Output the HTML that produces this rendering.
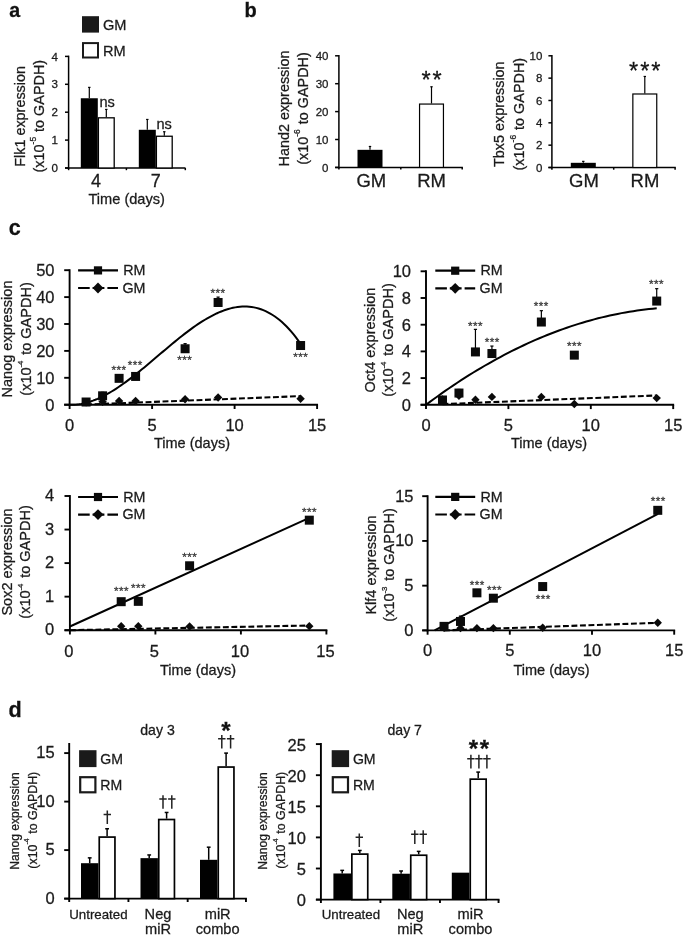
<!DOCTYPE html>
<html><head><meta charset="utf-8"><title>Figure</title>
<style>
html,body{margin:0;padding:0;background:#fff;}
body{width:685px;height:937px;overflow:hidden;font-family:"Liberation Sans",sans-serif;}
svg{display:block;}
svg text{font-family:"Liberation Sans",sans-serif;stroke:#222;stroke-width:0.28px;paint-order:stroke;}
</style></head><body>
<svg width="685" height="937" viewBox="0 0 685 937">
<rect x="0" y="0" width="685" height="937" fill="#ffffff"/>
<g opacity="0.999">
<text x="9.20" y="16.60" font-size="19.6" text-anchor="start" font-weight="bold" fill="#111" >a</text>
<rect x="82.00" y="16.20" width="17.00" height="16.40" fill="#1a1a1a"/>
<rect x="83.00" y="43.10" width="15.00" height="14.40" fill="#fff" stroke="#1a1a1a" stroke-width="2"/>
<text x="103.00" y="29.60" font-size="14.6" text-anchor="start" font-weight="normal" fill="#1a1a1a" >GM</text>
<text x="103.00" y="56.20" font-size="14.6" text-anchor="start" font-weight="normal" fill="#1a1a1a" >RM</text>
<line x1="68.60" y1="55.65" x2="68.60" y2="168.75" stroke="#000" stroke-width="1.5"/>
<line x1="65.00" y1="168.00" x2="185.50" y2="168.00" stroke="#000" stroke-width="1.5"/>
<line x1="65.00" y1="168.00" x2="68.60" y2="168.00" stroke="#000" stroke-width="1.5"/>
<text x="57.90" y="172.18" font-size="11.6" text-anchor="end" font-weight="normal" fill="#1a1a1a" >0</text>
<line x1="65.00" y1="140.10" x2="68.60" y2="140.10" stroke="#000" stroke-width="1.5"/>
<text x="57.90" y="144.28" font-size="11.6" text-anchor="end" font-weight="normal" fill="#1a1a1a" >1</text>
<line x1="65.00" y1="112.20" x2="68.60" y2="112.20" stroke="#000" stroke-width="1.5"/>
<text x="57.90" y="116.38" font-size="11.6" text-anchor="end" font-weight="normal" fill="#1a1a1a" >2</text>
<line x1="65.00" y1="84.30" x2="68.60" y2="84.30" stroke="#000" stroke-width="1.5"/>
<text x="57.90" y="88.48" font-size="11.6" text-anchor="end" font-weight="normal" fill="#1a1a1a" >3</text>
<line x1="65.00" y1="56.40" x2="68.60" y2="56.40" stroke="#000" stroke-width="1.5"/>
<text x="57.90" y="60.58" font-size="11.6" text-anchor="end" font-weight="normal" fill="#1a1a1a" >4</text>
<line x1="68.60" y1="168.00" x2="68.60" y2="170.20" stroke="#000" stroke-width="1.5"/>
<line x1="126.40" y1="168.00" x2="126.40" y2="170.20" stroke="#000" stroke-width="1.5"/>
<line x1="185.30" y1="168.00" x2="185.30" y2="170.20" stroke="#000" stroke-width="1.5"/>
<rect x="80.80" y="98.25" width="17.00" height="69.75" fill="#000"/>
<rect x="98.40" y="117.82" width="15.80" height="50.18" fill="#fff" stroke="#000" stroke-width="1.3"/>
<line x1="89.30" y1="87.37" x2="89.30" y2="98.25" stroke="#000" stroke-width="1.2"/>
<line x1="88.10" y1="87.37" x2="90.50" y2="87.37" stroke="#000" stroke-width="1.2"/>
<line x1="106.30" y1="109.41" x2="106.30" y2="117.22" stroke="#000" stroke-width="1.2"/>
<line x1="105.10" y1="109.41" x2="107.50" y2="109.41" stroke="#000" stroke-width="1.2"/>
<rect x="138.80" y="129.78" width="17.00" height="38.22" fill="#000"/>
<rect x="156.40" y="136.24" width="15.80" height="31.76" fill="#fff" stroke="#000" stroke-width="1.3"/>
<line x1="147.30" y1="119.45" x2="147.30" y2="129.78" stroke="#000" stroke-width="1.2"/>
<line x1="146.10" y1="119.45" x2="148.50" y2="119.45" stroke="#000" stroke-width="1.2"/>
<line x1="164.30" y1="131.73" x2="164.30" y2="135.64" stroke="#000" stroke-width="1.2"/>
<line x1="163.10" y1="131.73" x2="165.50" y2="131.73" stroke="#000" stroke-width="1.2"/>
<text x="99.40" y="106.80" font-size="14.6" text-anchor="start" font-weight="normal" fill="#1a1a1a" >ns</text>
<text x="156.40" y="129.20" font-size="14.6" text-anchor="start" font-weight="normal" fill="#1a1a1a" >ns</text>
<text x="96.00" y="186.60" font-size="18" text-anchor="middle" font-weight="normal" fill="#1a1a1a" >4</text>
<text x="155.80" y="186.60" font-size="18" text-anchor="middle" font-weight="normal" fill="#1a1a1a" >7</text>
<text x="126.70" y="203.80" font-size="14.6" text-anchor="middle" font-weight="normal" fill="#1a1a1a" >Time (days)</text>
<text transform="translate(24.80,116.40) rotate(-90)" font-size="14.4" text-anchor="middle" fill="#1a1a1a">Flk1 expression</text>
<text transform="translate(43.60,116.20) rotate(-90)" font-size="14.4" text-anchor="middle" fill="#1a1a1a">(x10<tspan dy="-0.932em" font-size="59%">-5</tspan><tspan dy="0.550em" dx="1.0"> to GAPDH)</tspan></text>
<text x="244.50" y="17.00" font-size="20" text-anchor="start" font-weight="bold" fill="#111" >b</text>
<line x1="338.90" y1="55.05" x2="338.90" y2="168.15" stroke="#000" stroke-width="1.5"/>
<line x1="335.10" y1="167.40" x2="462.90" y2="167.40" stroke="#000" stroke-width="1.5"/>
<line x1="335.10" y1="167.40" x2="338.90" y2="167.40" stroke="#000" stroke-width="1.5"/>
<text x="328.50" y="171.54" font-size="11.5" text-anchor="end" font-weight="normal" fill="#1a1a1a" >0</text>
<line x1="335.10" y1="139.50" x2="338.90" y2="139.50" stroke="#000" stroke-width="1.5"/>
<text x="328.50" y="143.64" font-size="11.5" text-anchor="end" font-weight="normal" fill="#1a1a1a" >10</text>
<line x1="335.10" y1="111.60" x2="338.90" y2="111.60" stroke="#000" stroke-width="1.5"/>
<text x="328.50" y="115.74" font-size="11.5" text-anchor="end" font-weight="normal" fill="#1a1a1a" >20</text>
<line x1="335.10" y1="83.70" x2="338.90" y2="83.70" stroke="#000" stroke-width="1.5"/>
<text x="328.50" y="87.84" font-size="11.5" text-anchor="end" font-weight="normal" fill="#1a1a1a" >30</text>
<line x1="335.10" y1="55.80" x2="338.90" y2="55.80" stroke="#000" stroke-width="1.5"/>
<text x="328.50" y="59.94" font-size="11.5" text-anchor="end" font-weight="normal" fill="#1a1a1a" >40</text>
<line x1="338.90" y1="167.40" x2="338.90" y2="169.60" stroke="#000" stroke-width="1.5"/>
<line x1="400.80" y1="167.40" x2="400.80" y2="169.60" stroke="#000" stroke-width="1.5"/>
<line x1="462.20" y1="167.40" x2="462.20" y2="169.60" stroke="#000" stroke-width="1.5"/>
<rect x="357.50" y="149.82" width="25.00" height="17.58" fill="#000"/>
<rect x="419.55" y="104.06" width="23.90" height="63.34" fill="#fff" stroke="#000" stroke-width="1.2"/>
<line x1="370.00" y1="146.47" x2="370.00" y2="149.82" stroke="#000" stroke-width="1.2"/>
<line x1="368.80" y1="146.47" x2="371.20" y2="146.47" stroke="#000" stroke-width="1.2"/>
<line x1="431.50" y1="86.77" x2="431.50" y2="103.51" stroke="#000" stroke-width="1.2"/>
<line x1="430.30" y1="86.77" x2="432.70" y2="86.77" stroke="#000" stroke-width="1.2"/>
<text x="432.60" y="87.50" font-size="23.5" text-anchor="middle" font-weight="normal" fill="#111" letter-spacing="2.0">**</text>
<text x="371.30" y="187.20" font-size="18.5" text-anchor="middle" font-weight="normal" fill="#1a1a1a" >GM</text>
<text x="431.60" y="187.20" font-size="18.5" text-anchor="middle" font-weight="normal" fill="#1a1a1a" >RM</text>
<text transform="translate(289.10,108.50) rotate(-90)" font-size="14.4" text-anchor="middle" fill="#1a1a1a">Hand2 expression</text>
<text transform="translate(308.10,108.50) rotate(-90)" font-size="14.4" text-anchor="middle" fill="#1a1a1a">(x10<tspan dy="-0.932em" font-size="59%">-6</tspan><tspan dy="0.550em" dx="1.0"> to GAPDH)</tspan></text>
<line x1="551.90" y1="55.05" x2="551.90" y2="168.25" stroke="#000" stroke-width="1.5"/>
<line x1="548.40" y1="167.50" x2="675.80" y2="167.50" stroke="#000" stroke-width="1.5"/>
<line x1="548.40" y1="167.50" x2="551.90" y2="167.50" stroke="#000" stroke-width="1.5"/>
<text x="542.30" y="171.64" font-size="11.5" text-anchor="end" font-weight="normal" fill="#1a1a1a" >0</text>
<line x1="548.40" y1="145.16" x2="551.90" y2="145.16" stroke="#000" stroke-width="1.5"/>
<text x="542.30" y="149.30" font-size="11.5" text-anchor="end" font-weight="normal" fill="#1a1a1a" >2</text>
<line x1="548.40" y1="122.82" x2="551.90" y2="122.82" stroke="#000" stroke-width="1.5"/>
<text x="542.30" y="126.96" font-size="11.5" text-anchor="end" font-weight="normal" fill="#1a1a1a" >4</text>
<line x1="548.40" y1="100.48" x2="551.90" y2="100.48" stroke="#000" stroke-width="1.5"/>
<text x="542.30" y="104.62" font-size="11.5" text-anchor="end" font-weight="normal" fill="#1a1a1a" >6</text>
<line x1="548.40" y1="78.14" x2="551.90" y2="78.14" stroke="#000" stroke-width="1.5"/>
<text x="542.30" y="82.28" font-size="11.5" text-anchor="end" font-weight="normal" fill="#1a1a1a" >8</text>
<line x1="548.40" y1="55.80" x2="551.90" y2="55.80" stroke="#000" stroke-width="1.5"/>
<text x="542.30" y="59.94" font-size="11.5" text-anchor="end" font-weight="normal" fill="#1a1a1a" >10</text>
<line x1="551.90" y1="167.50" x2="551.90" y2="169.70" stroke="#000" stroke-width="1.5"/>
<line x1="613.70" y1="167.50" x2="613.70" y2="169.70" stroke="#000" stroke-width="1.5"/>
<line x1="675.10" y1="167.50" x2="675.10" y2="169.70" stroke="#000" stroke-width="1.5"/>
<rect x="570.80" y="162.81" width="25.00" height="4.69" fill="#000"/>
<rect x="632.85" y="93.99" width="23.90" height="73.51" fill="#fff" stroke="#000" stroke-width="1.2"/>
<line x1="583.30" y1="161.36" x2="583.30" y2="162.81" stroke="#000" stroke-width="1.2"/>
<line x1="582.10" y1="161.36" x2="584.50" y2="161.36" stroke="#000" stroke-width="1.2"/>
<line x1="644.80" y1="76.46" x2="644.80" y2="93.44" stroke="#000" stroke-width="1.2"/>
<line x1="643.60" y1="76.46" x2="646.00" y2="76.46" stroke="#000" stroke-width="1.2"/>
<text x="645.80" y="78.90" font-size="23.5" text-anchor="middle" font-weight="normal" fill="#111" letter-spacing="2.0">***</text>
<text x="584.00" y="187.20" font-size="18.5" text-anchor="middle" font-weight="normal" fill="#1a1a1a" >GM</text>
<text x="645.00" y="187.20" font-size="18.5" text-anchor="middle" font-weight="normal" fill="#1a1a1a" >RM</text>
<text transform="translate(504.40,114.20) rotate(-90)" font-size="14.4" text-anchor="middle" fill="#1a1a1a">Tbx5 expression</text>
<text transform="translate(523.60,114.20) rotate(-90)" font-size="14.4" text-anchor="middle" fill="#1a1a1a">(x10<tspan dy="-0.932em" font-size="59%">-6</tspan><tspan dy="0.550em" dx="1.0"> to GAPDH)</tspan></text>
<text x="8.80" y="234.70" font-size="21.5" text-anchor="start" font-weight="bold" fill="#111" >c</text>
<polyline points="69.60,404.70 71.93,404.70 74.27,404.68 76.60,404.51 78.93,404.24 81.27,403.88 83.60,403.41 85.93,402.86 88.27,402.22 90.60,401.49 92.93,400.67 95.27,399.78 97.60,398.80 99.93,397.75 102.27,396.63 104.60,395.44 106.93,394.19 109.27,392.87 111.60,391.49 113.93,390.05 116.27,388.56 118.60,387.01 120.93,385.42 123.27,383.78 125.60,382.09 127.93,380.37 130.27,378.61 132.60,376.81 134.93,374.98 137.27,373.13 139.60,371.24 141.93,369.34 144.27,367.41 146.60,365.47 148.93,363.51 151.27,361.54 153.60,359.57 155.93,357.58 158.27,355.60 160.60,353.61 162.93,351.63 165.27,349.65 167.60,347.68 169.93,345.72 172.27,343.78 174.60,341.86 176.93,339.95 179.27,338.07 181.60,336.21 183.93,334.39 186.27,332.59 188.60,330.83 190.93,329.11 193.27,327.43 195.60,325.79 197.93,324.20 200.27,322.65 202.60,321.16 204.93,319.73 207.27,318.35 209.60,317.03 211.93,315.78 214.27,314.59 216.60,313.47 218.93,312.43 221.27,311.46 223.60,310.56 225.93,309.75 228.27,309.03 230.60,308.38 232.93,307.83 235.27,307.38 237.60,307.01 239.93,306.75 242.27,306.58 244.60,306.52 246.93,306.57 249.27,306.73 251.60,307.00 253.93,307.38 256.27,307.89 258.60,308.51 260.93,309.26 263.27,310.14 265.60,311.15 267.93,312.29 270.27,313.56 272.60,314.98 274.93,316.53 277.27,318.24 279.60,320.08 281.93,322.08 284.27,324.23 286.60,326.54 288.93,329.01 291.27,331.64 293.60,334.43 295.93,337.39 298.27,340.53 300.60,343.83" fill="none" stroke="#000" stroke-width="2.0" stroke-linejoin="round"/>
<polyline points="86.10,404.51 300.60,396.12" fill="none" stroke="#000" stroke-width="2.1" stroke-dasharray="5.9,2.6"/>
<line x1="69.60" y1="269.25" x2="69.60" y2="405.65" stroke="#000" stroke-width="1.9"/>
<line x1="64.20" y1="404.70" x2="318.05" y2="404.70" stroke="#000" stroke-width="1.9"/>
<line x1="64.20" y1="404.70" x2="69.60" y2="404.70" stroke="#000" stroke-width="1.9"/>
<text x="54.50" y="410.60" font-size="16.5" text-anchor="end" font-weight="normal" fill="#1a1a1a" >0</text>
<line x1="64.20" y1="377.80" x2="69.60" y2="377.80" stroke="#000" stroke-width="1.9"/>
<text x="54.50" y="383.70" font-size="16.5" text-anchor="end" font-weight="normal" fill="#1a1a1a" >10</text>
<line x1="64.20" y1="350.90" x2="69.60" y2="350.90" stroke="#000" stroke-width="1.9"/>
<text x="54.50" y="356.80" font-size="16.5" text-anchor="end" font-weight="normal" fill="#1a1a1a" >20</text>
<line x1="64.20" y1="324.00" x2="69.60" y2="324.00" stroke="#000" stroke-width="1.9"/>
<text x="54.50" y="329.90" font-size="16.5" text-anchor="end" font-weight="normal" fill="#1a1a1a" >30</text>
<line x1="64.20" y1="297.10" x2="69.60" y2="297.10" stroke="#000" stroke-width="1.9"/>
<text x="54.50" y="303.00" font-size="16.5" text-anchor="end" font-weight="normal" fill="#1a1a1a" >40</text>
<line x1="64.20" y1="270.20" x2="69.60" y2="270.20" stroke="#000" stroke-width="1.9"/>
<text x="54.50" y="276.10" font-size="16.5" text-anchor="end" font-weight="normal" fill="#1a1a1a" >50</text>
<line x1="69.60" y1="404.70" x2="69.60" y2="409.00" stroke="#000" stroke-width="1.9"/>
<text x="69.60" y="431.40" font-size="16.5" text-anchor="middle" font-weight="normal" fill="#1a1a1a" >0</text>
<line x1="152.10" y1="404.70" x2="152.10" y2="409.00" stroke="#000" stroke-width="1.9"/>
<text x="152.10" y="431.40" font-size="16.5" text-anchor="middle" font-weight="normal" fill="#1a1a1a" >5</text>
<line x1="234.60" y1="404.70" x2="234.60" y2="409.00" stroke="#000" stroke-width="1.9"/>
<text x="234.60" y="431.40" font-size="16.5" text-anchor="middle" font-weight="normal" fill="#1a1a1a" >10</text>
<line x1="317.10" y1="404.70" x2="317.10" y2="409.00" stroke="#000" stroke-width="1.9"/>
<text x="317.10" y="431.40" font-size="16.5" text-anchor="middle" font-weight="normal" fill="#1a1a1a" >15</text>
<line x1="102.60" y1="392.33" x2="102.60" y2="395.82" stroke="#000" stroke-width="1.2"/>
<line x1="101.00" y1="392.33" x2="104.20" y2="392.33" stroke="#000" stroke-width="1.2"/>
<line x1="185.10" y1="343.64" x2="185.10" y2="348.75" stroke="#000" stroke-width="1.2"/>
<line x1="183.50" y1="343.64" x2="186.70" y2="343.64" stroke="#000" stroke-width="1.2"/>
<line x1="218.10" y1="297.10" x2="218.10" y2="302.48" stroke="#000" stroke-width="1.2"/>
<line x1="216.50" y1="297.10" x2="219.70" y2="297.10" stroke="#000" stroke-width="1.2"/>
<path d="M81.90,402.28 L86.10,398.08 L90.30,402.28 L86.10,406.48 Z" fill="#0a0a0a"/>
<path d="M98.40,401.74 L102.60,397.54 L106.80,401.74 L102.60,405.94 Z" fill="#0a0a0a"/>
<path d="M114.90,400.93 L119.10,396.73 L123.30,400.93 L119.10,405.13 Z" fill="#0a0a0a"/>
<path d="M131.40,400.93 L135.60,396.73 L139.80,400.93 L135.60,405.13 Z" fill="#0a0a0a"/>
<path d="M180.90,399.32 L185.10,395.12 L189.30,399.32 L185.10,403.52 Z" fill="#0a0a0a"/>
<path d="M213.90,397.44 L218.10,393.24 L222.30,397.44 L218.10,401.64 Z" fill="#0a0a0a"/>
<path d="M296.40,398.78 L300.60,394.58 L304.80,398.78 L300.60,402.98 Z" fill="#0a0a0a"/>
<rect x="81.60" y="397.51" width="9.00" height="9.00" fill="#0a0a0a"/>
<rect x="98.10" y="391.32" width="9.00" height="9.00" fill="#0a0a0a"/>
<rect x="114.60" y="373.84" width="9.00" height="9.00" fill="#0a0a0a"/>
<rect x="131.10" y="371.95" width="9.00" height="9.00" fill="#0a0a0a"/>
<rect x="180.60" y="344.25" width="9.00" height="9.00" fill="#0a0a0a"/>
<rect x="213.60" y="297.98" width="9.00" height="9.00" fill="#0a0a0a"/>
<rect x="296.10" y="341.02" width="9.00" height="9.00" fill="#0a0a0a"/>
<text x="118.95" y="374.10" font-size="11.6" text-anchor="middle" font-weight="normal" fill="#3a3a3a" letter-spacing="0.5">***</text>
<text x="135.15" y="369.40" font-size="11.6" text-anchor="middle" font-weight="normal" fill="#3a3a3a" letter-spacing="0.5">***</text>
<text x="184.85" y="364.30" font-size="11.6" text-anchor="middle" font-weight="normal" fill="#3a3a3a" letter-spacing="0.5">***</text>
<text x="217.95" y="296.60" font-size="11.6" text-anchor="middle" font-weight="normal" fill="#3a3a3a" letter-spacing="0.5">***</text>
<text x="300.65" y="360.60" font-size="11.6" text-anchor="middle" font-weight="normal" fill="#3a3a3a" letter-spacing="0.5">***</text>
<line x1="78.10" y1="270.40" x2="118.00" y2="270.40" stroke="#000" stroke-width="2.2"/>
<rect x="93.90" y="266.30" width="8.20" height="8.20" fill="#0a0a0a"/>
<text x="123.30" y="275.10" font-size="14.3" text-anchor="start" font-weight="normal" fill="#1a1a1a" >RM</text>
<line x1="78.10" y1="288.00" x2="118.00" y2="288.00" stroke="#000" stroke-width="2.2" stroke-dasharray="11.6,2.9,11.8,3,10.6"/>
<path d="M92.60,288.00 L98.00,282.60 L103.40,288.00 L98.00,293.40 Z" fill="#0a0a0a"/>
<text x="122.40" y="292.70" font-size="14.3" text-anchor="start" font-weight="normal" fill="#1a1a1a" >GM</text>
<text transform="translate(11.60,339.00) rotate(-90)" font-size="14.5" text-anchor="middle" fill="#1a1a1a">Nanog expression</text>
<text transform="translate(30.80,339.00) rotate(-90)" font-size="14.5" text-anchor="middle" fill="#1a1a1a">(x10<tspan dy="-0.981em" font-size="54%">-4</tspan><tspan dy="0.530em" dx="1.7"> to GAPDH)</tspan></text>
<text x="192.00" y="448.30" font-size="14.5" text-anchor="middle" font-weight="normal" fill="#1a1a1a" >Time (days)</text>
<polyline points="426.00,404.80 429.91,401.89 433.82,399.02 437.73,396.20 441.64,393.42 445.55,390.69 449.46,387.99 453.37,385.35 457.28,382.75 461.19,380.19 465.11,377.67 469.02,375.20 472.93,372.77 476.84,370.39 480.75,368.05 484.66,365.76 488.57,363.51 492.48,361.30 496.39,359.14 500.30,357.02 504.21,354.94 508.12,352.91 512.03,350.92 515.94,348.98 519.85,347.08 523.76,345.23 527.67,343.41 531.58,341.65 535.49,339.92 539.40,338.24 543.32,336.61 547.23,335.02 551.14,333.47 555.05,331.97 558.96,330.51 562.87,329.09 566.78,327.72 570.69,326.39 574.60,325.11 578.51,323.87 582.42,322.68 586.33,321.52 590.24,320.42 594.15,319.35 598.06,318.33 601.97,317.36 605.88,316.43 609.79,315.54 613.70,314.70 617.61,313.90 621.53,313.14 625.44,312.43 629.35,311.76 633.26,311.14 637.17,310.56 641.08,310.02 644.99,309.53 648.90,309.08 652.81,308.68 656.72,308.32" fill="none" stroke="#000" stroke-width="2.0" stroke-linejoin="round"/>
<polyline points="442.48,404.13 656.72,395.45" fill="none" stroke="#000" stroke-width="2.1" stroke-dasharray="5.9,2.6"/>
<line x1="426.00" y1="270.35" x2="426.00" y2="405.75" stroke="#000" stroke-width="1.9"/>
<line x1="420.60" y1="404.80" x2="674.15" y2="404.80" stroke="#000" stroke-width="1.9"/>
<line x1="420.60" y1="404.80" x2="426.00" y2="404.80" stroke="#000" stroke-width="1.9"/>
<text x="411.00" y="410.70" font-size="16.5" text-anchor="end" font-weight="normal" fill="#1a1a1a" >0</text>
<line x1="420.60" y1="378.10" x2="426.00" y2="378.10" stroke="#000" stroke-width="1.9"/>
<text x="411.00" y="384.00" font-size="16.5" text-anchor="end" font-weight="normal" fill="#1a1a1a" >2</text>
<line x1="420.60" y1="351.40" x2="426.00" y2="351.40" stroke="#000" stroke-width="1.9"/>
<text x="411.00" y="357.30" font-size="16.5" text-anchor="end" font-weight="normal" fill="#1a1a1a" >4</text>
<line x1="420.60" y1="324.70" x2="426.00" y2="324.70" stroke="#000" stroke-width="1.9"/>
<text x="411.00" y="330.60" font-size="16.5" text-anchor="end" font-weight="normal" fill="#1a1a1a" >6</text>
<line x1="420.60" y1="298.00" x2="426.00" y2="298.00" stroke="#000" stroke-width="1.9"/>
<text x="411.00" y="303.90" font-size="16.5" text-anchor="end" font-weight="normal" fill="#1a1a1a" >8</text>
<line x1="420.60" y1="271.30" x2="426.00" y2="271.30" stroke="#000" stroke-width="1.9"/>
<text x="411.00" y="277.20" font-size="16.5" text-anchor="end" font-weight="normal" fill="#1a1a1a" >10</text>
<line x1="426.00" y1="404.80" x2="426.00" y2="409.10" stroke="#000" stroke-width="1.9"/>
<text x="426.00" y="431.40" font-size="16.5" text-anchor="middle" font-weight="normal" fill="#1a1a1a" >0</text>
<line x1="508.40" y1="404.80" x2="508.40" y2="409.10" stroke="#000" stroke-width="1.9"/>
<text x="508.40" y="431.40" font-size="16.5" text-anchor="middle" font-weight="normal" fill="#1a1a1a" >5</text>
<line x1="590.80" y1="404.80" x2="590.80" y2="409.10" stroke="#000" stroke-width="1.9"/>
<text x="590.80" y="431.40" font-size="16.5" text-anchor="middle" font-weight="normal" fill="#1a1a1a" >10</text>
<line x1="673.20" y1="404.80" x2="673.20" y2="409.10" stroke="#000" stroke-width="1.9"/>
<text x="673.20" y="431.40" font-size="16.5" text-anchor="middle" font-weight="normal" fill="#1a1a1a" >15</text>
<line x1="458.96" y1="389.45" x2="458.96" y2="393.05" stroke="#000" stroke-width="1.2"/>
<line x1="457.36" y1="389.45" x2="460.56" y2="389.45" stroke="#000" stroke-width="1.2"/>
<line x1="475.44" y1="329.37" x2="475.44" y2="351.93" stroke="#000" stroke-width="1.2"/>
<line x1="473.84" y1="329.37" x2="477.04" y2="329.37" stroke="#000" stroke-width="1.2"/>
<line x1="491.92" y1="346.06" x2="491.92" y2="353.54" stroke="#000" stroke-width="1.2"/>
<line x1="490.32" y1="346.06" x2="493.52" y2="346.06" stroke="#000" stroke-width="1.2"/>
<line x1="541.36" y1="310.68" x2="541.36" y2="322.03" stroke="#000" stroke-width="1.2"/>
<line x1="539.76" y1="310.68" x2="542.96" y2="310.68" stroke="#000" stroke-width="1.2"/>
<line x1="656.72" y1="288.66" x2="656.72" y2="301.07" stroke="#000" stroke-width="1.2"/>
<line x1="655.12" y1="288.66" x2="658.32" y2="288.66" stroke="#000" stroke-width="1.2"/>
<path d="M438.28,399.46 L442.48,395.26 L446.68,399.46 L442.48,403.66 Z" fill="#0a0a0a"/>
<path d="M454.76,395.72 L458.96,391.52 L463.16,395.72 L458.96,399.92 Z" fill="#0a0a0a"/>
<path d="M471.24,399.73 L475.44,395.53 L479.64,399.73 L475.44,403.93 Z" fill="#0a0a0a"/>
<path d="M487.72,396.92 L491.92,392.72 L496.12,396.92 L491.92,401.12 Z" fill="#0a0a0a"/>
<path d="M537.16,396.92 L541.36,392.72 L545.56,396.92 L541.36,401.12 Z" fill="#0a0a0a"/>
<path d="M570.12,404.00 L574.32,399.80 L578.52,404.00 L574.32,408.20 Z" fill="#0a0a0a"/>
<path d="M652.52,398.12 L656.72,393.93 L660.92,398.12 L656.72,402.32 Z" fill="#0a0a0a"/>
<rect x="437.98" y="395.49" width="9.00" height="9.00" fill="#0a0a0a"/>
<rect x="454.46" y="388.55" width="9.00" height="9.00" fill="#0a0a0a"/>
<rect x="470.94" y="347.43" width="9.00" height="9.00" fill="#0a0a0a"/>
<rect x="487.42" y="349.04" width="9.00" height="9.00" fill="#0a0a0a"/>
<rect x="536.86" y="317.53" width="9.00" height="9.00" fill="#0a0a0a"/>
<rect x="569.82" y="350.64" width="9.00" height="9.00" fill="#0a0a0a"/>
<rect x="652.22" y="296.57" width="9.00" height="9.00" fill="#0a0a0a"/>
<text x="475.55" y="329.60" font-size="11.6" text-anchor="middle" font-weight="normal" fill="#3a3a3a" letter-spacing="0.5">***</text>
<text x="492.15" y="345.60" font-size="11.6" text-anchor="middle" font-weight="normal" fill="#3a3a3a" letter-spacing="0.5">***</text>
<text x="541.35" y="310.30" font-size="11.6" text-anchor="middle" font-weight="normal" fill="#3a3a3a" letter-spacing="0.5">***</text>
<text x="574.45" y="349.60" font-size="11.6" text-anchor="middle" font-weight="normal" fill="#3a3a3a" letter-spacing="0.5">***</text>
<text x="656.45" y="287.80" font-size="11.6" text-anchor="middle" font-weight="normal" fill="#3a3a3a" letter-spacing="0.5">***</text>
<line x1="435.30" y1="270.70" x2="475.20" y2="270.70" stroke="#000" stroke-width="2.2"/>
<rect x="451.10" y="266.60" width="8.20" height="8.20" fill="#0a0a0a"/>
<text x="480.50" y="275.40" font-size="14.3" text-anchor="start" font-weight="normal" fill="#1a1a1a" >RM</text>
<line x1="435.30" y1="288.30" x2="475.20" y2="288.30" stroke="#000" stroke-width="2.2" stroke-dasharray="11.6,2.9,11.8,3,10.6"/>
<path d="M449.80,288.30 L455.20,282.90 L460.60,288.30 L455.20,293.70 Z" fill="#0a0a0a"/>
<text x="479.60" y="293.00" font-size="14.3" text-anchor="start" font-weight="normal" fill="#1a1a1a" >GM</text>
<text transform="translate(374.50,340.00) rotate(-90)" font-size="14.5" text-anchor="middle" fill="#1a1a1a">Oct4 expression</text>
<text transform="translate(393.20,340.00) rotate(-90)" font-size="14.5" text-anchor="middle" fill="#1a1a1a">(x10<tspan dy="-0.981em" font-size="54%">-4</tspan><tspan dy="0.530em" dx="1.7"> to GAPDH)</tspan></text>
<text x="549.00" y="448.30" font-size="14.5" text-anchor="middle" font-weight="normal" fill="#1a1a1a" >Time (days)</text>
<polyline points="69.90,626.51 309.30,517.81" fill="none" stroke="#000" stroke-width="2.0" stroke-linejoin="round"/>
<polyline points="69.90,630.20 309.30,625.50" fill="none" stroke="#000" stroke-width="2.1" stroke-dasharray="5.9,2.6"/>
<line x1="69.90" y1="495.05" x2="69.90" y2="631.15" stroke="#000" stroke-width="1.9"/>
<line x1="64.50" y1="630.20" x2="327.35" y2="630.20" stroke="#000" stroke-width="1.9"/>
<line x1="64.50" y1="630.20" x2="69.90" y2="630.20" stroke="#000" stroke-width="1.9"/>
<text x="54.10" y="635.40" font-size="16.5" text-anchor="end" font-weight="normal" fill="#1a1a1a" >0</text>
<line x1="64.50" y1="596.65" x2="69.90" y2="596.65" stroke="#000" stroke-width="1.9"/>
<text x="54.10" y="601.85" font-size="16.5" text-anchor="end" font-weight="normal" fill="#1a1a1a" >1</text>
<line x1="64.50" y1="563.10" x2="69.90" y2="563.10" stroke="#000" stroke-width="1.9"/>
<text x="54.10" y="568.30" font-size="16.5" text-anchor="end" font-weight="normal" fill="#1a1a1a" >2</text>
<line x1="64.50" y1="529.55" x2="69.90" y2="529.55" stroke="#000" stroke-width="1.9"/>
<text x="54.10" y="534.75" font-size="16.5" text-anchor="end" font-weight="normal" fill="#1a1a1a" >3</text>
<line x1="64.50" y1="496.00" x2="69.90" y2="496.00" stroke="#000" stroke-width="1.9"/>
<text x="54.10" y="501.20" font-size="16.5" text-anchor="end" font-weight="normal" fill="#1a1a1a" >4</text>
<line x1="69.90" y1="630.20" x2="69.90" y2="634.50" stroke="#000" stroke-width="1.9"/>
<text x="68.90" y="656.60" font-size="16.5" text-anchor="middle" font-weight="normal" fill="#1a1a1a" >0</text>
<line x1="155.40" y1="630.20" x2="155.40" y2="634.50" stroke="#000" stroke-width="1.9"/>
<text x="154.40" y="656.60" font-size="16.5" text-anchor="middle" font-weight="normal" fill="#1a1a1a" >5</text>
<line x1="240.90" y1="630.20" x2="240.90" y2="634.50" stroke="#000" stroke-width="1.9"/>
<text x="239.90" y="656.60" font-size="16.5" text-anchor="middle" font-weight="normal" fill="#1a1a1a" >10</text>
<line x1="326.40" y1="630.20" x2="326.40" y2="634.50" stroke="#000" stroke-width="1.9"/>
<text x="325.40" y="656.60" font-size="16.5" text-anchor="middle" font-weight="normal" fill="#1a1a1a" >15</text>
<path d="M117.00,626.17 L121.20,621.97 L125.40,626.17 L121.20,630.37 Z" fill="#0a0a0a"/>
<path d="M134.10,626.17 L138.30,621.97 L142.50,626.17 L138.30,630.37 Z" fill="#0a0a0a"/>
<path d="M185.40,626.51 L189.60,622.31 L193.80,626.51 L189.60,630.71 Z" fill="#0a0a0a"/>
<path d="M305.10,626.17 L309.30,621.97 L313.50,626.17 L309.30,630.37 Z" fill="#0a0a0a"/>
<rect x="116.70" y="597.18" width="9.00" height="9.00" fill="#0a0a0a"/>
<rect x="133.80" y="596.85" width="9.00" height="9.00" fill="#0a0a0a"/>
<rect x="185.10" y="561.28" width="9.00" height="9.00" fill="#0a0a0a"/>
<rect x="304.80" y="515.66" width="9.00" height="9.00" fill="#0a0a0a"/>
<text x="121.45" y="595.10" font-size="11.6" text-anchor="middle" font-weight="normal" fill="#3a3a3a" letter-spacing="0.5">***</text>
<text x="138.55" y="592.30" font-size="11.6" text-anchor="middle" font-weight="normal" fill="#3a3a3a" letter-spacing="0.5">***</text>
<text x="189.85" y="560.80" font-size="11.6" text-anchor="middle" font-weight="normal" fill="#3a3a3a" letter-spacing="0.5">***</text>
<text x="309.55" y="516.40" font-size="11.6" text-anchor="middle" font-weight="normal" fill="#3a3a3a" letter-spacing="0.5">***</text>
<line x1="78.10" y1="497.00" x2="118.00" y2="497.00" stroke="#000" stroke-width="2.2"/>
<rect x="93.90" y="492.90" width="8.20" height="8.20" fill="#0a0a0a"/>
<text x="123.30" y="501.70" font-size="14.3" text-anchor="start" font-weight="normal" fill="#1a1a1a" >RM</text>
<line x1="78.10" y1="514.60" x2="118.00" y2="514.60" stroke="#000" stroke-width="2.2" stroke-dasharray="11.6,2.9,11.8,3,10.6"/>
<path d="M92.60,514.60 L98.00,509.20 L103.40,514.60 L98.00,520.00 Z" fill="#0a0a0a"/>
<text x="122.40" y="519.30" font-size="14.3" text-anchor="start" font-weight="normal" fill="#1a1a1a" >GM</text>
<text transform="translate(12.40,562.00) rotate(-90)" font-size="14.5" text-anchor="middle" fill="#1a1a1a">Sox2 expression</text>
<text transform="translate(30.40,562.00) rotate(-90)" font-size="14.5" text-anchor="middle" fill="#1a1a1a">(x10<tspan dy="-0.981em" font-size="54%">-4</tspan><tspan dy="0.530em" dx="1.7"> to GAPDH)</tspan></text>
<text x="198.00" y="674.60" font-size="14.5" text-anchor="middle" font-weight="normal" fill="#1a1a1a" >Time (days)</text>
<polyline points="434.60,630.40 658.00,513.90" fill="none" stroke="#000" stroke-width="2.0" stroke-linejoin="round"/>
<polyline points="444.04,630.40 657.76,622.80" fill="none" stroke="#000" stroke-width="2.1" stroke-dasharray="5.9,2.6"/>
<line x1="427.60" y1="495.25" x2="427.60" y2="631.35" stroke="#000" stroke-width="1.9"/>
<line x1="422.20" y1="630.40" x2="675.15" y2="630.40" stroke="#000" stroke-width="1.9"/>
<line x1="422.20" y1="630.40" x2="427.60" y2="630.40" stroke="#000" stroke-width="1.9"/>
<text x="413.50" y="635.70" font-size="16.5" text-anchor="end" font-weight="normal" fill="#1a1a1a" >0</text>
<line x1="422.20" y1="585.66" x2="427.60" y2="585.66" stroke="#000" stroke-width="1.9"/>
<text x="413.50" y="590.96" font-size="16.5" text-anchor="end" font-weight="normal" fill="#1a1a1a" >5</text>
<line x1="422.20" y1="540.93" x2="427.60" y2="540.93" stroke="#000" stroke-width="1.9"/>
<text x="413.50" y="546.23" font-size="16.5" text-anchor="end" font-weight="normal" fill="#1a1a1a" >10</text>
<line x1="422.20" y1="496.19" x2="427.60" y2="496.19" stroke="#000" stroke-width="1.9"/>
<text x="413.50" y="501.50" font-size="16.5" text-anchor="end" font-weight="normal" fill="#1a1a1a" >15</text>
<line x1="427.60" y1="630.40" x2="427.60" y2="634.70" stroke="#000" stroke-width="1.9"/>
<text x="427.60" y="656.40" font-size="16.5" text-anchor="middle" font-weight="normal" fill="#1a1a1a" >0</text>
<line x1="509.80" y1="630.40" x2="509.80" y2="634.70" stroke="#000" stroke-width="1.9"/>
<text x="509.80" y="656.40" font-size="16.5" text-anchor="middle" font-weight="normal" fill="#1a1a1a" >5</text>
<line x1="592.00" y1="630.40" x2="592.00" y2="634.70" stroke="#000" stroke-width="1.9"/>
<text x="592.00" y="656.40" font-size="16.5" text-anchor="middle" font-weight="normal" fill="#1a1a1a" >10</text>
<line x1="674.20" y1="630.40" x2="674.20" y2="634.70" stroke="#000" stroke-width="1.9"/>
<text x="674.20" y="656.40" font-size="16.5" text-anchor="middle" font-weight="normal" fill="#1a1a1a" >15</text>
<line x1="460.48" y1="616.08" x2="460.48" y2="621.45" stroke="#000" stroke-width="1.2"/>
<line x1="458.88" y1="616.08" x2="462.08" y2="616.08" stroke="#000" stroke-width="1.2"/>
<path d="M439.84,627.72 L444.04,623.52 L448.24,627.72 L444.04,631.92 Z" fill="#0a0a0a"/>
<path d="M456.28,628.16 L460.48,623.96 L464.68,628.16 L460.48,632.36 Z" fill="#0a0a0a"/>
<path d="M472.72,628.16 L476.92,623.96 L481.12,628.16 L476.92,632.36 Z" fill="#0a0a0a"/>
<path d="M489.16,628.16 L493.36,623.96 L497.56,628.16 L493.36,632.36 Z" fill="#0a0a0a"/>
<path d="M538.48,627.72 L542.68,623.52 L546.88,627.72 L542.68,631.92 Z" fill="#0a0a0a"/>
<path d="M653.56,622.80 L657.76,618.60 L661.96,622.80 L657.76,627.00 Z" fill="#0a0a0a"/>
<rect x="439.54" y="621.87" width="9.00" height="9.00" fill="#0a0a0a"/>
<rect x="455.98" y="616.95" width="9.00" height="9.00" fill="#0a0a0a"/>
<rect x="472.42" y="588.32" width="9.00" height="9.00" fill="#0a0a0a"/>
<rect x="488.86" y="593.69" width="9.00" height="9.00" fill="#0a0a0a"/>
<rect x="538.18" y="582.06" width="9.00" height="9.00" fill="#0a0a0a"/>
<rect x="653.26" y="505.83" width="9.00" height="9.00" fill="#0a0a0a"/>
<text x="477.15" y="589.10" font-size="11.6" text-anchor="middle" font-weight="normal" fill="#3a3a3a" letter-spacing="0.5">***</text>
<text x="494.45" y="594.10" font-size="11.6" text-anchor="middle" font-weight="normal" fill="#3a3a3a" letter-spacing="0.5">***</text>
<text x="543.15" y="602.60" font-size="11.6" text-anchor="middle" font-weight="normal" fill="#3a3a3a" letter-spacing="0.5">***</text>
<text x="658.25" y="505.20" font-size="11.6" text-anchor="middle" font-weight="normal" fill="#3a3a3a" letter-spacing="0.5">***</text>
<line x1="435.30" y1="496.90" x2="475.20" y2="496.90" stroke="#000" stroke-width="2.2"/>
<rect x="451.10" y="492.80" width="8.20" height="8.20" fill="#0a0a0a"/>
<text x="480.50" y="501.60" font-size="14.3" text-anchor="start" font-weight="normal" fill="#1a1a1a" >RM</text>
<line x1="435.30" y1="514.50" x2="475.20" y2="514.50" stroke="#000" stroke-width="2.2" stroke-dasharray="11.6,2.9,11.8,3,10.6"/>
<path d="M449.80,514.50 L455.20,509.10 L460.60,514.50 L455.20,519.90 Z" fill="#0a0a0a"/>
<text x="479.60" y="519.20" font-size="14.3" text-anchor="start" font-weight="normal" fill="#1a1a1a" >GM</text>
<text transform="translate(375.60,565.00) rotate(-90)" font-size="14.5" text-anchor="middle" fill="#1a1a1a">Klf4 expression</text>
<text transform="translate(394.40,565.00) rotate(-90)" font-size="14.5" text-anchor="middle" fill="#1a1a1a">(x10<tspan dy="-0.981em" font-size="54%">-3</tspan><tspan dy="0.530em" dx="1.7"> to GAPDH)</tspan></text>
<text x="551.50" y="674.80" font-size="14.5" text-anchor="middle" font-weight="normal" fill="#1a1a1a" >Time (days)</text>
<text x="8.50" y="716.90" font-size="21.6" text-anchor="start" font-weight="bold" fill="#111" >d</text>
<line x1="69.20" y1="743.00" x2="69.20" y2="899.55" stroke="#000" stroke-width="1.9"/>
<line x1="64.20" y1="898.60" x2="246.90" y2="898.60" stroke="#000" stroke-width="1.9"/>
<line x1="64.20" y1="898.60" x2="69.20" y2="898.60" stroke="#000" stroke-width="1.9"/>
<text x="54.70" y="903.80" font-size="16.5" text-anchor="end" font-weight="normal" fill="#1a1a1a" >0</text>
<line x1="64.20" y1="850.10" x2="69.20" y2="850.10" stroke="#000" stroke-width="1.9"/>
<text x="54.70" y="855.30" font-size="16.5" text-anchor="end" font-weight="normal" fill="#1a1a1a" >5</text>
<line x1="64.20" y1="801.60" x2="69.20" y2="801.60" stroke="#000" stroke-width="1.9"/>
<text x="54.70" y="806.80" font-size="16.5" text-anchor="end" font-weight="normal" fill="#1a1a1a" >10</text>
<line x1="64.20" y1="753.10" x2="69.20" y2="753.10" stroke="#000" stroke-width="1.9"/>
<text x="54.70" y="758.30" font-size="16.5" text-anchor="end" font-weight="normal" fill="#1a1a1a" >15</text>
<line x1="69.20" y1="898.60" x2="69.20" y2="902.00" stroke="#000" stroke-width="1.9"/>
<line x1="128.43" y1="898.60" x2="128.43" y2="902.00" stroke="#000" stroke-width="1.9"/>
<line x1="187.67" y1="898.60" x2="187.67" y2="902.00" stroke="#000" stroke-width="1.9"/>
<line x1="245.95" y1="898.60" x2="245.95" y2="902.00" stroke="#000" stroke-width="1.9"/>
<rect x="81.00" y="863.20" width="17.40" height="35.40" fill="#000"/>
<rect x="99.25" y="837.08" width="15.70" height="61.52" fill="#fff" stroke="#000" stroke-width="1.7"/>
<line x1="89.70" y1="857.86" x2="89.70" y2="863.20" stroke="#000" stroke-width="1.5"/>
<line x1="87.80" y1="857.86" x2="91.60" y2="857.86" stroke="#000" stroke-width="1.5"/>
<line x1="107.10" y1="828.76" x2="107.10" y2="836.23" stroke="#000" stroke-width="1.5"/>
<line x1="105.20" y1="828.76" x2="109.00" y2="828.76" stroke="#000" stroke-width="1.5"/>
<rect x="140.50" y="858.15" width="17.40" height="40.45" fill="#000"/>
<rect x="158.75" y="819.52" width="15.70" height="79.08" fill="#fff" stroke="#000" stroke-width="1.7"/>
<line x1="149.20" y1="854.95" x2="149.20" y2="858.15" stroke="#000" stroke-width="1.5"/>
<line x1="147.30" y1="854.95" x2="151.10" y2="854.95" stroke="#000" stroke-width="1.5"/>
<line x1="166.60" y1="812.46" x2="166.60" y2="818.67" stroke="#000" stroke-width="1.5"/>
<line x1="164.70" y1="812.46" x2="168.50" y2="812.46" stroke="#000" stroke-width="1.5"/>
<rect x="200.00" y="859.80" width="17.40" height="38.80" fill="#000"/>
<rect x="218.25" y="767.05" width="15.70" height="131.56" fill="#fff" stroke="#000" stroke-width="1.7"/>
<line x1="208.70" y1="847.19" x2="208.70" y2="859.80" stroke="#000" stroke-width="1.5"/>
<line x1="206.80" y1="847.19" x2="210.60" y2="847.19" stroke="#000" stroke-width="1.5"/>
<line x1="226.10" y1="753.10" x2="226.10" y2="766.20" stroke="#000" stroke-width="1.5"/>
<line x1="224.20" y1="753.10" x2="228.00" y2="753.10" stroke="#000" stroke-width="1.5"/>
<text x="157.50" y="734.90" font-size="14.1" text-anchor="middle" font-weight="normal" fill="#1a1a1a" >day 3</text>
<rect x="79.10" y="750.20" width="17.40" height="16.90" fill="#1a1a1a"/>
<rect x="80.20" y="777.20" width="15.20" height="15.10" fill="#fff" stroke="#1a1a1a" stroke-width="2.2"/>
<text x="100.30" y="763.80" font-size="14.1" text-anchor="start" font-weight="normal" fill="#1a1a1a" >GM</text>
<text x="100.30" y="790.10" font-size="14.1" text-anchor="start" font-weight="normal" fill="#1a1a1a" >RM</text>
<text transform="translate(19.00,821.00) rotate(-90)" font-size="12.1" text-anchor="middle" fill="#1a1a1a">Nanog expression</text>
<text transform="translate(36.60,820.20) rotate(-90)" font-size="12.4" text-anchor="middle" fill="#1a1a1a">(x10<tspan dy="-1.074em" font-size="54%">-4</tspan><tspan dy="0.580em" dx="1.4"> to GAPDH)</tspan></text>
<text x="98.40" y="918.60" font-size="13.3" text-anchor="middle" font-weight="normal" fill="#1a1a1a" >Untreated</text>
<text x="158.00" y="918.90" font-size="14.6" text-anchor="middle" font-weight="normal" fill="#1a1a1a" >Neg</text>
<text x="158.00" y="934.30" font-size="14.6" text-anchor="middle" font-weight="normal" fill="#1a1a1a" >miR</text>
<text x="217.70" y="918.90" font-size="14.6" text-anchor="middle" font-weight="normal" fill="#1a1a1a" >miR</text>
<text x="217.70" y="934.30" font-size="14.6" text-anchor="middle" font-weight="normal" fill="#1a1a1a" >combo</text>
<line x1="320.90" y1="743.00" x2="320.90" y2="900.55" stroke="#000" stroke-width="1.9"/>
<line x1="315.90" y1="899.60" x2="499.50" y2="899.60" stroke="#000" stroke-width="1.9"/>
<line x1="315.90" y1="899.60" x2="320.90" y2="899.60" stroke="#000" stroke-width="1.9"/>
<text x="305.90" y="906.00" font-size="16.5" text-anchor="end" font-weight="normal" fill="#1a1a1a" >0</text>
<line x1="315.90" y1="868.50" x2="320.90" y2="868.50" stroke="#000" stroke-width="1.9"/>
<text x="305.90" y="874.90" font-size="16.5" text-anchor="end" font-weight="normal" fill="#1a1a1a" >5</text>
<line x1="315.90" y1="837.40" x2="320.90" y2="837.40" stroke="#000" stroke-width="1.9"/>
<text x="305.90" y="843.80" font-size="16.5" text-anchor="end" font-weight="normal" fill="#1a1a1a" >10</text>
<line x1="315.90" y1="806.30" x2="320.90" y2="806.30" stroke="#000" stroke-width="1.9"/>
<text x="305.90" y="812.70" font-size="16.5" text-anchor="end" font-weight="normal" fill="#1a1a1a" >15</text>
<line x1="315.90" y1="775.20" x2="320.90" y2="775.20" stroke="#000" stroke-width="1.9"/>
<text x="305.90" y="781.60" font-size="16.5" text-anchor="end" font-weight="normal" fill="#1a1a1a" >20</text>
<line x1="315.90" y1="744.10" x2="320.90" y2="744.10" stroke="#000" stroke-width="1.9"/>
<text x="305.90" y="750.50" font-size="16.5" text-anchor="end" font-weight="normal" fill="#1a1a1a" >25</text>
<line x1="320.90" y1="899.60" x2="320.90" y2="903.00" stroke="#000" stroke-width="1.9"/>
<line x1="380.43" y1="899.60" x2="380.43" y2="903.00" stroke="#000" stroke-width="1.9"/>
<line x1="439.97" y1="899.60" x2="439.97" y2="903.00" stroke="#000" stroke-width="1.9"/>
<line x1="498.55" y1="899.60" x2="498.55" y2="903.00" stroke="#000" stroke-width="1.9"/>
<rect x="333.40" y="873.48" width="17.60" height="26.12" fill="#000"/>
<rect x="351.85" y="854.11" width="15.90" height="45.49" fill="#fff" stroke="#000" stroke-width="1.7"/>
<line x1="342.20" y1="870.37" x2="342.20" y2="873.48" stroke="#000" stroke-width="1.5"/>
<line x1="340.30" y1="870.37" x2="344.10" y2="870.37" stroke="#000" stroke-width="1.5"/>
<line x1="359.80" y1="850.46" x2="359.80" y2="853.26" stroke="#000" stroke-width="1.5"/>
<line x1="357.90" y1="850.46" x2="361.70" y2="850.46" stroke="#000" stroke-width="1.5"/>
<rect x="392.30" y="873.72" width="17.60" height="25.88" fill="#000"/>
<rect x="410.75" y="855.23" width="15.90" height="44.37" fill="#fff" stroke="#000" stroke-width="1.7"/>
<line x1="401.10" y1="870.99" x2="401.10" y2="873.72" stroke="#000" stroke-width="1.5"/>
<line x1="399.20" y1="870.99" x2="403.00" y2="870.99" stroke="#000" stroke-width="1.5"/>
<line x1="418.70" y1="851.39" x2="418.70" y2="854.38" stroke="#000" stroke-width="1.5"/>
<line x1="416.80" y1="851.39" x2="420.60" y2="851.39" stroke="#000" stroke-width="1.5"/>
<rect x="451.80" y="872.67" width="17.60" height="26.93" fill="#000"/>
<rect x="470.25" y="779.16" width="15.90" height="120.44" fill="#fff" stroke="#000" stroke-width="1.7"/>
<line x1="478.20" y1="772.09" x2="478.20" y2="778.31" stroke="#000" stroke-width="1.5"/>
<line x1="476.30" y1="772.09" x2="480.10" y2="772.09" stroke="#000" stroke-width="1.5"/>
<text x="404.70" y="734.90" font-size="14.1" text-anchor="middle" font-weight="normal" fill="#1a1a1a" >day 7</text>
<rect x="331.70" y="750.20" width="17.40" height="16.90" fill="#1a1a1a"/>
<rect x="332.80" y="777.20" width="15.20" height="15.10" fill="#fff" stroke="#1a1a1a" stroke-width="2.2"/>
<text x="352.90" y="763.80" font-size="14.1" text-anchor="start" font-weight="normal" fill="#1a1a1a" >GM</text>
<text x="352.90" y="790.10" font-size="14.1" text-anchor="start" font-weight="normal" fill="#1a1a1a" >RM</text>
<text transform="translate(267.00,821.00) rotate(-90)" font-size="12.1" text-anchor="middle" fill="#1a1a1a">Nanog expression</text>
<text transform="translate(285.40,820.20) rotate(-90)" font-size="12.4" text-anchor="middle" fill="#1a1a1a">(x10<tspan dy="-1.074em" font-size="54%">-4</tspan><tspan dy="0.580em" dx="1.4"> to GAPDH)</tspan></text>
<text x="350.90" y="918.60" font-size="13.3" text-anchor="middle" font-weight="normal" fill="#1a1a1a" >Untreated</text>
<text x="410.30" y="918.90" font-size="14.6" text-anchor="middle" font-weight="normal" fill="#1a1a1a" >Neg</text>
<text x="410.30" y="934.30" font-size="14.6" text-anchor="middle" font-weight="normal" fill="#1a1a1a" >miR</text>
<text x="470.50" y="918.90" font-size="14.6" text-anchor="middle" font-weight="normal" fill="#1a1a1a" >miR</text>
<text x="470.50" y="934.30" font-size="14.6" text-anchor="middle" font-weight="normal" fill="#1a1a1a" >combo</text>
<path d="M107.30,810.50 V824.10 M103.60,814.40 H111.00" stroke="#222" stroke-width="1.5" fill="none"/>
<path d="M163.00,795.20 V808.80 M159.30,799.10 H166.70" stroke="#222" stroke-width="1.5" fill="none"/>
<path d="M171.80,795.20 V808.80 M168.10,799.10 H175.50" stroke="#222" stroke-width="1.5" fill="none"/>
<path d="M221.80,734.90 V748.50 M218.10,738.80 H225.50" stroke="#222" stroke-width="1.5" fill="none"/>
<path d="M230.60,734.90 V748.50 M226.90,738.80 H234.30" stroke="#222" stroke-width="1.5" fill="none"/>
<text x="225.80" y="739.00" font-size="24" text-anchor="middle" font-weight="bold" fill="#111" >*</text>
<path d="M359.30,833.40 V847.00 M355.60,837.30 H363.00" stroke="#222" stroke-width="1.5" fill="none"/>
<path d="M414.80,830.30 V843.90 M411.10,834.20 H418.50" stroke="#222" stroke-width="1.5" fill="none"/>
<path d="M423.20,830.30 V843.90 M419.50,834.20 H426.90" stroke="#222" stroke-width="1.5" fill="none"/>
<path d="M470.90,754.80 V768.40 M467.20,758.70 H474.60" stroke="#222" stroke-width="1.5" fill="none"/>
<path d="M478.90,754.80 V768.40 M475.20,758.70 H482.60" stroke="#222" stroke-width="1.5" fill="none"/>
<path d="M486.90,754.80 V768.40 M483.20,758.70 H490.60" stroke="#222" stroke-width="1.5" fill="none"/>
<text x="479.65" y="756.80" font-size="24" text-anchor="middle" font-weight="bold" fill="#111" letter-spacing="1.5">**</text>
</g>
</svg>
</body></html>
